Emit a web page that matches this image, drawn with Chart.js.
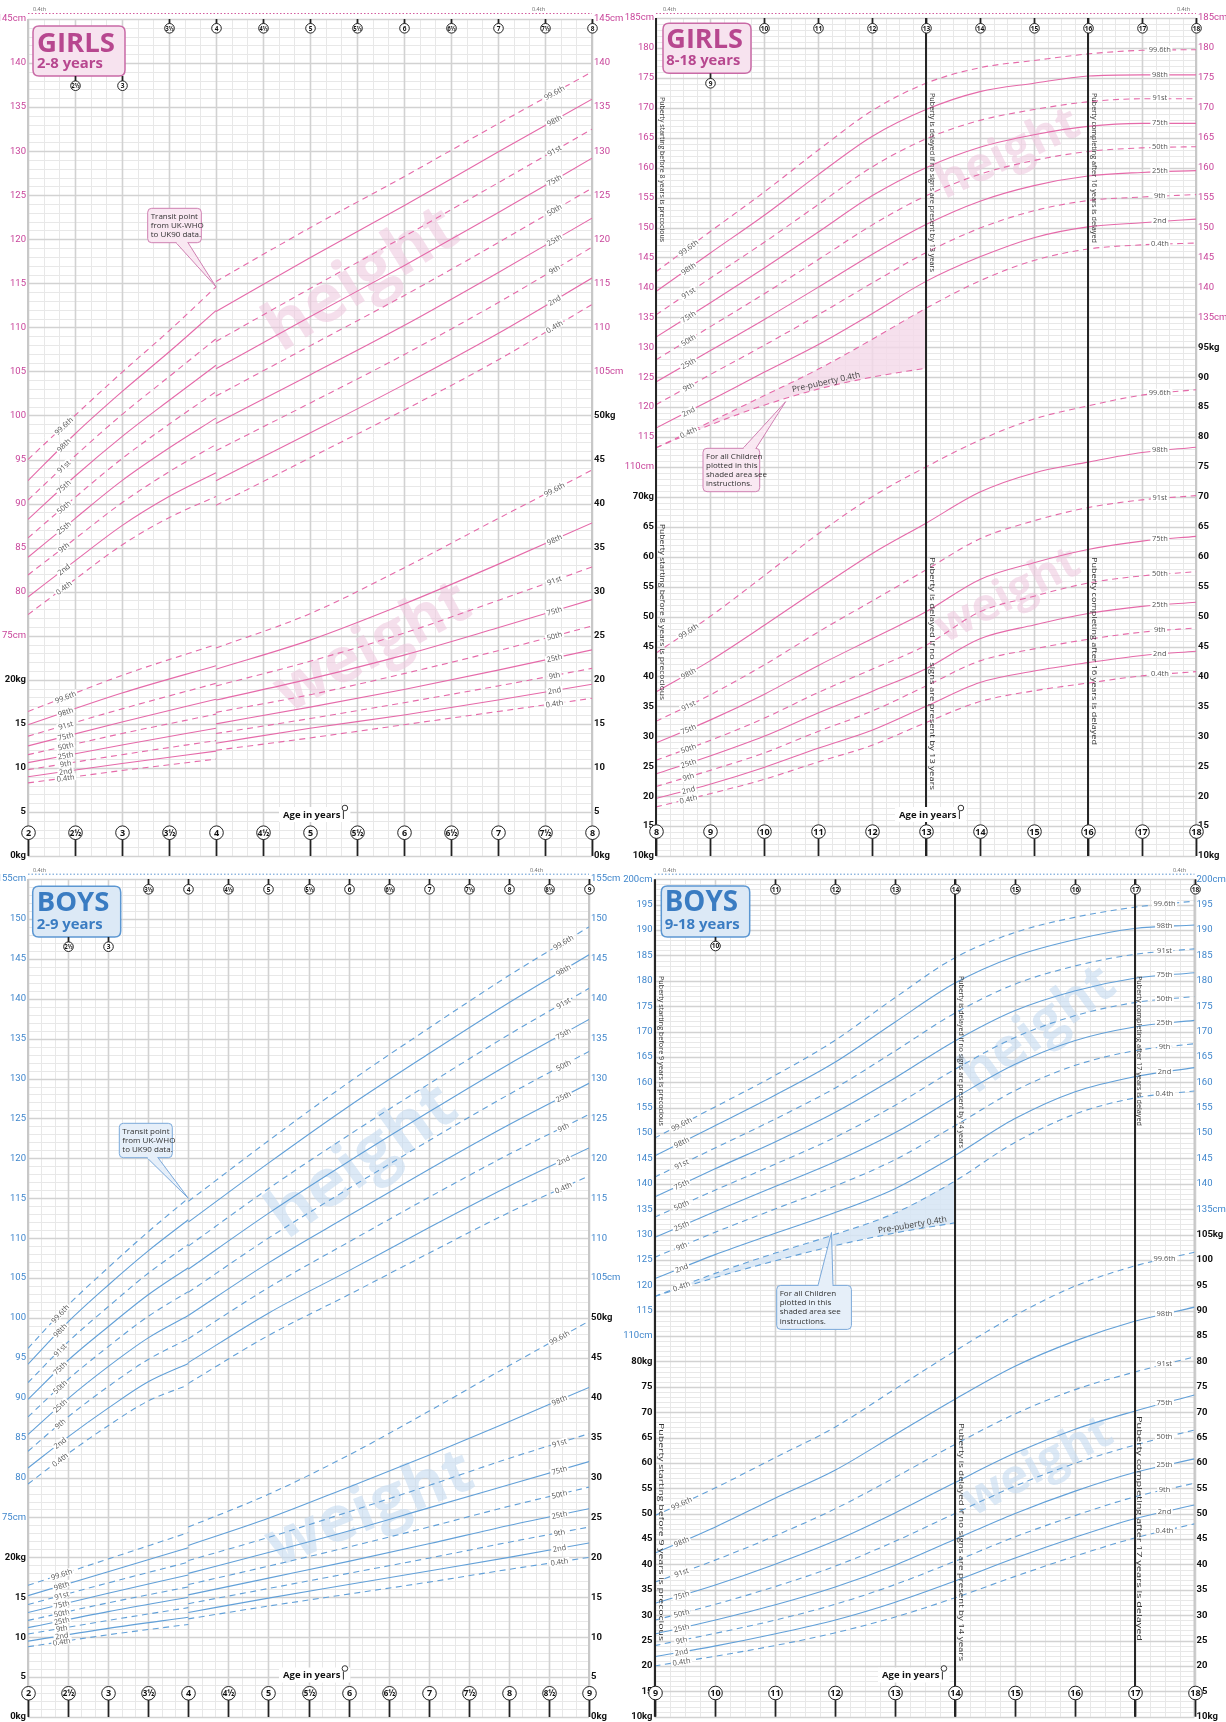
<!DOCTYPE html>
<html>
<head>
<meta charset="utf-8">
<title>Growth charts</title>
<script src="https://cdn.jsdelivr.net/npm/chart.js@4.4.1/dist/chart.umd.min.js"></script>
<style>
  html, body { margin: 0; padding: 0; background: #fff; }
  #page { position: relative; width: 1226px; height: 1722px; overflow: hidden; background: #fff; }
  #page canvas { position: absolute; }
</style>
</head>
<body>
<div id="page">
  <canvas id="girlsYoung" width="640" height="861" style="left:0;top:0"></canvas>
  <canvas id="girlsOld" width="613" height="861" style="left:613px;top:0"></canvas>
  <canvas id="boysYoung" width="640" height="861" style="left:0;top:861px"></canvas>
  <canvas id="boysOld" width="613" height="861" style="left:613px;top:861px"></canvas>
</div>
<script>
// Centile names, lowest to highest
const CENTILES = ['0.4th', '2nd', '9th', '25th', '50th', '75th', '91st', '98th', '99.6th'];

// ---------- Girls 2–8 years (UK-WHO to age 4, UK90 from age 4); one row per age ----------
const girlsWhoAges = [2, 2.5, 3, 3.5, 4];
const girlsWhoHeight = [
  [77.4, 79.4, 81.9, 83.9, 86.1, 88.2, 90.4, 92.6, 95.0],
  [81.4, 83.5, 86.0, 88.3, 90.7, 93.1, 95.4, 97.9, 100.0],
  [85.3, 87.5, 90.1, 92.6, 95.1, 97.6, 100.1, 102.7, 104.9],
  [88.4, 90.8, 93.6, 96.3, 99.0, 101.7, 104.4, 107.2, 109.6],
  [90.8, 93.5, 96.7, 99.7, 102.7, 105.7, 108.7, 111.9, 114.6]
];
const girlsWhoWeightAges = [2, 3, 4];
const girlsWhoWeight = [
  [8.3, 9.0, 9.8, 10.6, 11.5, 12.5, 13.6, 14.9, 16.4],
  [9.7, 10.5, 11.5, 12.6, 13.9, 15.2, 16.7, 18.5, 20.5],
  [11.0, 11.9, 13.1, 14.5, 16.1, 17.8, 19.6, 21.6, 24.0]
];
const girlsUkAges = [4, 5, 6, 7, 8];
const girlsUkHeight = [
  [89.8, 92.6, 96.0, 99.1, 102.2, 105.3, 108.4, 111.8, 115.2],
  [95.2, 98.0, 101.4, 104.6, 107.9, 111.2, 114.4, 117.9, 121.3],
  [100.6, 103.5, 106.9, 110.2, 113.6, 117.0, 120.3, 123.8, 127.1],
  [106.3, 109.3, 112.8, 116.2, 119.6, 123.0, 126.4, 129.9, 133.1],
  [112.6, 115.6, 119.1, 122.4, 125.8, 129.2, 132.5, 135.9, 139.0]
];
const girlsUkWeight = [
  [12.0, 12.8, 13.9, 15.0, 16.3, 17.7, 19.3, 21.2, 23.6],
  [13.4, 14.5, 15.6, 16.9, 18.3, 20.1, 22.1, 24.5, 27.5],
  [14.9, 16.0, 17.4, 18.9, 20.7, 22.8, 25.3, 28.6, 32.7],
  [16.4, 17.7, 19.3, 21.1, 23.3, 25.9, 29.0, 33.1, 38.3],
  [17.9, 19.5, 21.3, 23.4, 26.1, 29.1, 32.8, 37.8, 43.8]
];

// ---------- Girls 8–18 years (UK90) ----------
const girlsTeenAges = [8, 9, 10, 11, 12, 13, 14, 15, 16, 17, 18];
const girlsTeenHeight = [
  [113.2, 116.5, 120.4, 124.2, 127.9, 131.7, 135.4, 139.3, 142.6],
  [117.5, 121.1, 125.4, 129.4, 133.4, 137.4, 141.5, 145.7, 149.3],
  [121.9, 125.8, 130.3, 134.6, 138.9, 143.2, 147.5, 152.0, 155.9],
  [126.3, 130.4, 135.4, 140.0, 144.6, 149.2, 153.8, 158.8, 162.9],
  [131.3, 135.6, 140.7, 145.5, 150.4, 155.3, 160.1, 165.2, 169.5],
  [136.5, 141.0, 145.8, 150.5, 155.3, 160.0, 164.8, 169.7, 174.1],
  [141.1, 145.1, 149.9, 154.4, 158.9, 163.4, 167.9, 172.7, 176.7],
  [144.5, 148.3, 152.8, 157.0, 161.2, 165.5, 169.7, 174.1, 177.9],
  [146.4, 150.1, 154.5, 158.6, 162.7, 166.9, 171.0, 175.3, 179.0],
  [147.1, 150.8, 155.1, 159.2, 163.3, 167.4, 171.5, 175.5, 179.6],
  [147.4, 151.4, 155.5, 159.5, 163.5, 167.4, 171.5, 175.5, 179.7]
];
const girlsTeenWeight = [
  [18.2, 19.6, 21.6, 23.7, 26.0, 28.9, 32.5, 37.4, 43.9],
  [20.4, 22.0, 24.3, 26.7, 29.3, 32.7, 36.9, 42.6, 50.0],
  [22.8, 24.8, 27.2, 30.0, 33.0, 37.0, 41.9, 48.5, 56.8],
  [25.7, 28.0, 30.8, 33.9, 37.3, 41.8, 47.4, 54.6, 63.8],
  [28.5, 31.0, 34.2, 37.5, 41.2, 46.3, 52.6, 60.5, 70.0],
  [32.3, 35.0, 38.4, 41.3, 45.2, 50.8, 57.8, 65.6, 75.0],
  [35.8, 39.0, 42.6, 46.3, 50.8, 56.2, 63.0, 70.8, 79.5],
  [37.6, 40.9, 44.6, 48.6, 53.4, 59.0, 66.0, 74.0, 83.0],
  [38.9, 42.3, 46.2, 50.5, 55.6, 61.2, 68.2, 75.8, 85.2],
  [40.1, 43.5, 47.4, 51.7, 56.8, 62.6, 69.5, 77.4, 87.0],
  [40.8, 44.2, 48.1, 52.4, 57.5, 63.4, 70.2, 78.3, 87.9]
];
const girlsPrePubertyAges = [8, 9, 10, 11, 12, 13];
const girlsPrePuberty04 = [113.2, 117.0, 120.3, 123.0, 125.0, 126.5];

// ---------- Boys 2–9 years (UK-WHO to age 4, UK90 from age 4) ----------
const boysWhoAges = [2, 2.5, 3, 3.5, 4];
const boysWhoHeight = [
  [79.2, 81.2, 83.3, 85.4, 87.6, 89.8, 91.9, 94.2, 96.2],
  [83.0, 85.1, 87.6, 89.9, 92.3, 94.7, 97.0, 99.5, 101.6],
  [86.5, 88.7, 91.4, 93.9, 96.4, 98.9, 101.4, 104.1, 106.3],
  [89.6, 92.0, 94.8, 97.5, 100.2, 102.9, 105.6, 108.4, 110.8],
  [91.6, 94.3, 97.4, 100.3, 103.3, 106.3, 109.2, 112.3, 115.0]
];
const boysWhoWeightAges = [2, 3, 4];
const boysWhoWeight = [
  [8.8, 9.5, 10.4, 11.2, 12.1, 13.1, 14.1, 15.2, 16.5],
  [10.3, 11.1, 12.1, 13.2, 14.3, 15.5, 16.8, 18.2, 19.8],
  [11.6, 12.5, 13.7, 15.0, 16.3, 17.8, 19.4, 21.2, 23.1]
];
const boysUkAges = [4, 5, 6, 7, 8, 9];
const boysUkHeight = [
  [91.8, 94.4, 97.4, 100.3, 103.2, 106.1, 109.0, 112.0, 114.6],
  [97.8, 100.6, 103.8, 106.9, 110.0, 113.1, 116.2, 119.4, 122.2],
  [102.9, 105.9, 109.5, 112.8, 116.2, 119.6, 122.9, 126.5, 129.5],
  [108.1, 111.3, 115.1, 118.6, 122.2, 125.8, 129.3, 133.1, 136.3],
  [113.2, 116.5, 120.5, 124.2, 128.0, 131.8, 135.5, 139.5, 142.9],
  [117.8, 121.3, 125.5, 129.4, 133.4, 137.4, 141.3, 145.5, 149.0]
];
const boysUkWeight = [
  [12.3, 13.1, 14.2, 15.3, 16.6, 18.0, 19.6, 21.5, 23.8],
  [13.9, 14.9, 16.1, 17.4, 18.9, 20.6, 22.5, 24.9, 27.9],
  [15.4, 16.6, 18.0, 19.5, 21.3, 23.3, 25.7, 28.8, 32.8],
  [16.9, 18.3, 19.9, 21.7, 23.8, 26.2, 29.0, 32.8, 38.3],
  [18.5, 20.0, 21.9, 24.0, 26.4, 29.1, 32.4, 37.0, 44.0],
  [20.0, 21.8, 23.8, 26.1, 28.8, 32.0, 35.5, 41.3, 49.6]
];

// ---------- Boys 9–18 years (UK90) ----------
const boysTeenAges = [9, 10, 11, 12, 13, 14, 15, 16, 17, 18];
const boysTeenHeight = [
  [117.8, 121.3, 125.5, 129.4, 133.4, 137.4, 141.3, 145.5, 149.0],
  [122.3, 126.0, 130.4, 134.5, 138.7, 142.9, 147.0, 151.4, 155.1],
  [126.3, 130.2, 135.0, 139.4, 143.8, 148.2, 152.7, 157.4, 161.3],
  [130.0, 134.3, 139.5, 144.3, 149.1, 154.0, 158.8, 163.9, 168.2],
  [134.2, 139.0, 144.7, 150.0, 155.4, 160.8, 166.1, 171.8, 176.6],
  [140.5, 145.5, 151.4, 156.9, 162.5, 168.1, 173.6, 179.5, 184.5],
  [148.1, 152.8, 158.3, 163.5, 168.8, 174.1, 179.3, 184.8, 189.5],
  [153.7, 158.1, 163.3, 168.2, 173.1, 178.0, 182.9, 188.1, 192.5],
  [156.9, 161.1, 166.2, 170.9, 175.7, 180.5, 185.2, 190.3, 194.5],
  [158.3, 162.9, 167.6, 172.2, 176.9, 181.6, 186.3, 191.0, 195.7]
];
const boysTeenWeight = [
  [20.0, 21.8, 24.0, 26.3, 29.0, 32.3, 36.5, 42.2, 49.6],
  [21.9, 23.9, 26.4, 29.0, 32.1, 35.9, 40.8, 47.3, 55.0],
  [24.0, 26.3, 29.0, 32.0, 35.6, 40.0, 45.6, 53.0, 61.0],
  [26.5, 29.0, 32.1, 35.5, 39.6, 44.6, 50.9, 58.5, 67.0],
  [29.6, 32.5, 36.0, 39.8, 44.5, 50.1, 57.1, 65.5, 74.5],
  [33.4, 36.7, 40.6, 44.9, 50.0, 56.1, 63.6, 72.5, 82.0],
  [37.6, 41.2, 45.4, 50.0, 55.4, 61.9, 69.6, 79.0, 89.0],
  [41.6, 45.3, 49.6, 54.4, 59.9, 66.6, 74.4, 84.0, 94.8],
  [45.2, 49.0, 53.3, 58.1, 63.5, 70.2, 77.9, 87.9, 98.8],
  [48.0, 51.7, 56.0, 60.8, 66.5, 73.4, 80.9, 90.7, 101.5]
];
const boysPrePubertyAges = [9, 10, 11, 12, 13, 14];
const boysPrePuberty04 = [117.8, 121.5, 124.8, 127.8, 130.3, 132.3];

// ---------- shared styling ----------
const SANS = "'Open Sans', 'Noto Sans', 'DejaVu Sans', sans-serif";
const TICKFONT = "Roboto, 'Liberation Sans', sans-serif";

const PINK = {
  line: '#e56aa9', tick: '#c8449a', title: '#b7478f', boxFill: '#f7e3ef', boxStroke: '#c96aa6',
  mark: 'rgba(236, 196, 220, 0.55)', shade: 'rgba(244, 216, 233, 0.8)', dots: '#d35d9f', callFill: '#f9e8f2', callStroke: '#cf80b2'
};
const BLUE = {
  line: '#62a0d8', tick: '#3f86cc', title: '#3a7cc2', boxFill: '#dce9f6', boxStroke: '#5c97d2',
  mark: 'rgba(196, 218, 240, 0.6)', shade: 'rgba(214, 229, 245, 0.85)', dots: '#5d96d1', callFill: '#e6eff9', callStroke: '#7ba9da'
};

function centileSets(ages, table, axis, color) {
  return CENTILES.map((name, c) => ({
    label: name,
    data: ages.map((a, r) => ({ x: a, y: table[r][c] })),
    yAxisID: axis,
    borderColor: color,
    borderWidth: 1.1,
    borderDash: c % 2 === 0 ? [6, 4.5] : [],
    pointRadius: 0,
    pointHitRadius: 0,
    fill: false,
    cubicInterpolationMode: 'monotone'
  }));
}

function ageText(a) {
  const whole = Math.floor(a);
  return a - whole > 0.25 ? whole + '½' : String(whole);
}

function fitFont(ctx, text, weight, family, targetW) {
  ctx.font = `${weight} 100px ${family}`;
  const w = ctx.measureText(text).width;
  return 100 * targetW / w;
}

function roundRect(ctx, x, y, w, h, r) {
  ctx.beginPath();
  ctx.moveTo(x + r, y);
  ctx.lineTo(x + w - r, y);
  ctx.quadraticCurveTo(x + w, y, x + w, y + r);
  ctx.lineTo(x + w, y + h - r);
  ctx.quadraticCurveTo(x + w, y + h, x + w - r, y + h);
  ctx.lineTo(x + r, y + h);
  ctx.quadraticCurveTo(x, y + h, x, y + h - r);
  ctx.lineTo(x, y + r);
  ctx.quadraticCurveTo(x, y, x + r, y);
  ctx.closePath();
}

// y pixel of a drawn dataset at a given x pixel, plus the local slope angle
function pointOnLine(pts, px) {
  let k = 0;
  while (k < pts.length - 2 && pts[k + 1].x < px) k++;
  const p0 = pts[k], p1 = pts[k + 1];
  const t = (px - p0.x) / (p1.x - p0.x);
  return { y: p0.y + t * (p1.y - p0.y), ang: Math.atan2(p1.y - p0.y, p1.x - p0.x) };
}

// ---------- decoration plugin: paper grid, watermarks, labels, markers ----------
function makePaper(cfg, groupStart, prepubIndex) {
  const th = cfg.theme;

  function drawGrid(chart) {
    const { ctx, chartArea: a, scales: { x, y } } = chart;
    ctx.save();
    const hLines = Math.round(y.max - y.min);
    const vCount = Math.round((x.max - x.min) / cfg.grid.xStep);
    for (const pass of [0, 1]) {
      for (let i = 0; i <= hLines; i++) {
        const v = y.min + i;
        const major = v % 5 === 0;
        if (major !== (pass === 1)) continue;
        const py = Math.round(y.getPixelForValue(v)) + 0.5;
        ctx.strokeStyle = major ? '#d2d2d2' : '#e8e8e8';
        ctx.lineWidth = major ? 1.6 : 1;
        ctx.beginPath(); ctx.moveTo(a.left, py); ctx.lineTo(a.right, py); ctx.stroke();
      }
      for (let i = 0; i <= vCount; i++) {
        const major = i % cfg.grid.xMajorEvery === 0;
        if (major !== (pass === 1)) continue;
        const px = Math.round(x.getPixelForValue(x.min + i * cfg.grid.xStep)) + 0.5;
        ctx.strokeStyle = major ? '#d2d2d2' : '#e8e8e8';
        ctx.lineWidth = major ? 1.6 : 1;
        ctx.beginPath(); ctx.moveTo(px, a.top); ctx.lineTo(px, a.bottom); ctx.stroke();
      }
    }
    ctx.strokeStyle = '#c8c8c8';
    ctx.lineWidth = 2;
    ctx.beginPath(); ctx.moveTo(a.left, a.top); ctx.lineTo(a.left, a.bottom); ctx.stroke();
    ctx.beginPath(); ctx.moveTo(a.right, a.top); ctx.lineTo(a.right, a.bottom); ctx.stroke();
    ctx.restore();
  }

  function drawWatermarks(chart) {
    const { ctx } = chart;
    ctx.save();
    cfg.watermarks.forEach(m => {
      const size = fitFont(ctx, m.text, 'bold', SANS, m.len);
      ctx.save();
      ctx.translate(m.cx, m.cy);
      ctx.rotate(-m.angle * Math.PI / 180);
      ctx.font = `bold ${size}px ${SANS}`;
      ctx.fillStyle = th.mark;
      ctx.textAlign = 'center';
      ctx.textBaseline = 'middle';
      ctx.fillText(m.text, 0, 0);
      ctx.restore();
    });
    ctx.restore();
  }

  function drawBoldLines(chart) {
    const { ctx, chartArea: a, scales: { x } } = chart;
    ctx.save();
    ctx.strokeStyle = '#262626';
    ctx.lineWidth = 2;
    (cfg.boldAges || []).forEach(age => {
      const px = Math.round(x.getPixelForValue(age));
      ctx.beginPath(); ctx.moveTo(px, a.top); ctx.lineTo(px, a.bottom); ctx.stroke();
    });
    ctx.restore();
  }

  function tag(ctx, text, px, py, ang, size) {
    ctx.save();
    ctx.translate(px, py);
    ctx.rotate(ang);
    ctx.font = `${size}px ${SANS}`;
    const w = ctx.measureText(text).width;
    ctx.fillStyle = '#fff';
    ctx.fillRect(-w / 2 - 1.5, -3.5, w + 3, 7);
    ctx.fillStyle = '#555';
    ctx.textAlign = 'center';
    ctx.textBaseline = 'middle';
    ctx.fillText(text, 0, 0.5);
    ctx.restore();
  }

  function drawCentileLabels(chart) {
    const { ctx, scales: { x } } = chart;
    cfg.labels.forEach(L => {
      for (let c = 0; c < CENTILES.length; c++) {
        const pts = chart.getDatasetMeta(groupStart[L.group] + c).data;
        const px = x.getPixelForValue(L.x);
        const p = pointOnLine(pts, px);
        tag(ctx, CENTILES[c], px, p.y + (L.dy || 0), L.rotate ? p.ang : 0, L.size || 7.5);
      }
    });
    if (cfg.prepub && prepubIndex >= 0) {
      const pts = chart.getDatasetMeta(prepubIndex).data;
      const px = x.getPixelForValue(cfg.prepub.labelAge);
      const p = pointOnLine(pts, px);
      ctx.save();
      ctx.translate(px, p.y - 5);
      ctx.rotate(p.ang);
      ctx.font = `8.5px ${SANS}`;
      ctx.fillStyle = '#444';
      ctx.textAlign = 'center';
      ctx.textBaseline = 'middle';
      ctx.fillText('Pre-puberty 0.4th', 0, 0);
      ctx.restore();
    }
  }

  function drawTopDots(chart) {
    const { ctx, chartArea: a } = chart;
    const d = cfg.topDots;
    ctx.save();
    ctx.strokeStyle = th.dots;
    ctx.lineWidth = 1;
    ctx.setLineDash([1.5, 2]);
    ctx.beginPath(); ctx.moveTo(a.left, d.y + 0.5); ctx.lineTo(a.right, d.y + 0.5); ctx.stroke();
    ctx.setLineDash([]);
    ctx.fillStyle = '#666';
    ctx.font = `5.5px ${SANS}`;
    ctx.textBaseline = 'bottom';
    d.labels.forEach(lx => ctx.fillText('0.4th', lx, d.y - 1));
    ctx.restore();
  }

  function drawTitle(chart) {
    const { ctx } = chart;
    const t = cfg.title;
    ctx.save();
    roundRect(ctx, t.x, t.y, t.w, t.h, 6);
    ctx.fillStyle = th.boxFill; ctx.fill();
    ctx.strokeStyle = th.boxStroke; ctx.lineWidth = 1.5; ctx.stroke();
    ctx.fillStyle = th.title;
    ctx.textBaseline = 'alphabetic';
    ctx.textAlign = 'left';
    let s = fitFont(ctx, t.big, 'bold', SANS, t.bigW);
    ctx.font = `bold ${s}px ${SANS}`;
    ctx.fillText(t.big, t.tx, t.bigY);
    s = fitFont(ctx, t.small, 'bold', SANS, t.smallW);
    ctx.font = `bold ${s}px ${SANS}`;
    ctx.fillText(t.small, t.tx, t.smallY);
    ctx.restore();
  }

  function mark(ctx, px, py, r, label, fs, stemA, stemB) {
    ctx.strokeStyle = '#222';
    ctx.lineWidth = 1.7;
    ctx.beginPath(); ctx.moveTo(px, stemA); ctx.lineTo(px, stemB); ctx.stroke();
    ctx.beginPath(); ctx.arc(px, py, r, 0, Math.PI * 2);
    ctx.fillStyle = '#fff'; ctx.fill();
    ctx.lineWidth = 1; ctx.stroke();
    ctx.fillStyle = '#111';
    ctx.font = `bold ${fs}px ${SANS}`;
    ctx.textAlign = 'center';
    ctx.textBaseline = 'middle';
    const w = ctx.measureText(label).width;
    const maxW = r * 1.7;
    if (w > maxW) {
      ctx.save(); ctx.translate(px, py + 0.5); ctx.scale(maxW / w, 1); ctx.fillText(label, 0, 0); ctx.restore();
    } else {
      ctx.fillText(label, px, py + 0.5);
    }
  }

  function drawAgeMarks(chart) {
    const { ctx, chartArea: a, scales: { x } } = chart;
    const m = cfg.marks;
    ctx.save();
    m.top.forEach(age => {
      const px = Math.round(x.getPixelForValue(age)) + 0.5;
      mark(ctx, px, m.topY, 4.8, ageText(age), 6.5, a.top, m.topY);
    });
    m.under.forEach(age => {
      const px = Math.round(x.getPixelForValue(age)) + 0.5;
      mark(ctx, px, m.underY, 4.8, ageText(age), 6.5, m.underFrom, m.underY);
    });
    m.bottom.forEach(age => {
      const px = Math.round(x.getPixelForValue(age)) + 0.5;
      mark(ctx, px, m.bottomY, 6.8, ageText(age), 9, m.bottomY, a.bottom);
    });
    ctx.restore();
  }

  function drawCallouts(chart) {
    const { ctx, scales: { x, y } } = chart;
    ctx.save();
    cfg.callouts.forEach(c => {
      const tx = x.getPixelForValue(c.tip.x), ty = y.getPixelForValue(c.tip.y);
      const by = c.side === 'bottom' ? c.y + c.h : c.y;
      ctx.fillStyle = th.callFill;
      ctx.strokeStyle = th.callStroke;
      ctx.lineWidth = 1;
      roundRect(ctx, c.x, c.y, c.w, c.h, 4);
      ctx.fill(); ctx.stroke();
      ctx.beginPath();
      ctx.moveTo(c.base[0], by); ctx.lineTo(tx, ty); ctx.lineTo(c.base[1], by);
      ctx.fill(); ctx.stroke();
      ctx.fillRect(c.base[0] + 0.8, by - 1.2, c.base[1] - c.base[0] - 1.6, 2.4);
      ctx.fillStyle = '#333';
      ctx.font = `8px ${SANS}`;
      ctx.textAlign = 'left';
      ctx.textBaseline = 'alphabetic';
      c.lines.forEach((ln, i) => ctx.fillText(ln, c.x + 3, c.y + 10.5 + i * 9.2));
    });
    ctx.restore();
  }

  function drawNotes(chart) {
    const { ctx, scales: { x } } = chart;
    ctx.save();
    (cfg.notes || []).forEach(n => {
      const px = x.getPixelForValue(n.age) + n.dx;
      ctx.save();
      ctx.translate(px, n.y0);
      ctx.rotate(Math.PI / 2);
      ctx.font = `8px ${SANS}`;
      const w = ctx.measureText(n.text).width;
      ctx.scale((n.y1 - n.y0) / w, 1);
      ctx.fillStyle = '#333';
      ctx.textAlign = 'left';
      ctx.textBaseline = 'middle';
      ctx.fillText(n.text, 0, 0);
      ctx.restore();
    });
    ctx.restore();
  }

  function drawAgeLabel(chart) {
    const { ctx } = chart;
    const g = cfg.ageLabel;
    ctx.save();
    ctx.font = `bold 9.5px ${SANS}`;
    const w = ctx.measureText('Age in years').width;
    ctx.fillStyle = '#fff';
    ctx.fillRect(g.x - 4, g.y - 8, w + 14, 15);
    ctx.fillStyle = '#111';
    ctx.textBaseline = 'middle';
    ctx.fillText('Age in years', g.x, g.y);
    ctx.strokeStyle = '#333';
    ctx.lineWidth = 1;
    ctx.beginPath(); ctx.moveTo(g.x + w + 3, g.y - 4); ctx.lineTo(g.x + w + 3, g.y + 4); ctx.stroke();
    ctx.beginPath(); ctx.arc(g.x + w + 4.5, g.y - 7, 2.8, 0, Math.PI * 2);
    ctx.fillStyle = '#fff'; ctx.fill(); ctx.stroke();
    ctx.restore();
  }

  return {
    id: 'paper',
    beforeDatasetsDraw(chart) { drawGrid(chart); drawWatermarks(chart); },
    afterDatasetsDraw(chart) {
      drawBoldLines(chart);
      drawCentileLabels(chart);
      drawTopDots(chart);
      drawTitle(chart);
      drawAgeMarks(chart);
      drawCallouts(chart);
      drawNotes(chart);
      drawAgeLabel(chart);
    }
  };
}

function tickText(v, side, cfg) {
  const s = cfg.axisText[side];
  if (v >= s.hFrom) return (v === cfg.hMax || v === s.hFrom) ? v + 'cm' : String(v);
  if (v <= s.wTo) {
    const w = v - cfg.off;
    return (v === s.wTo || v === cfg.hMin) ? w + 'kg' : String(w);
  }
  return '';
}

function makeChart(id, cfg) {
  const canvas = document.getElementById(id);
  const W = canvas.width, H = canvas.height;
  const rightAxisW = W - cfg.area.right;
  const datasets = [];
  const groupStart = [];
  let prepubIndex = -1;
  cfg.groups.forEach(g => {
    groupStart.push(datasets.length);
    datasets.push(...centileSets(g.ages, g.table, g.axis, cfg.theme.line));
  });
  if (cfg.prepub) {
    const base = datasets.length;
    const p = cfg.prepub;
    datasets.push({
      label: 'boundary', data: p.ages.map((a, r) => ({ x: a, y: p.boundary[r][0] })),
      yAxisID: 'y', borderWidth: 0, borderColor: 'rgba(0,0,0,0)', pointRadius: 0, fill: false,
      cubicInterpolationMode: 'monotone'
    });
    prepubIndex = datasets.length;
    datasets.push({
      label: 'Pre-puberty 0.4th', data: p.ages.map((a, r) => ({ x: a, y: p.values[r] })),
      yAxisID: 'y', borderColor: cfg.theme.line, borderWidth: 1.1, borderDash: [6, 4.5], pointRadius: 0,
      backgroundColor: cfg.theme.shade, fill: { target: base }, cubicInterpolationMode: 'monotone'
    });
  }
  const isH = (c, side) => c.tick && c.tick.value >= cfg.axisText[side].hFrom;
  const tickOpts = side => ({
    stepSize: 5,
    autoSkip: false,
    padding: 2,
    callback: v => tickText(v, side, cfg),
    color: c => isH(c, side) ? cfg.theme.tick : '#111',
    font: c => ({ family: TICKFONT, size: 9.5, weight: isH(c, side) ? 'normal' : 'bold' })
  });
  const fixWidth = w => s => { s.width = w; s.paddingTop = 0; s.paddingBottom = 0; };
  return new Chart(canvas, {
    type: 'line',
    data: { datasets },
    options: {
      responsive: false,
      animation: false,
      devicePixelRatio: 1,
      events: [],
      layout: { padding: { left: 0, right: 0, top: cfg.area.top, bottom: H - cfg.area.bottom } },
      plugins: { legend: { display: false }, tooltip: { enabled: false } },
      scales: {
        x: { type: 'linear', min: cfg.xMin, max: cfg.xMax, display: false },
        y: {
          type: 'linear', position: 'left', min: cfg.hMin, max: cfg.hMax,
          grid: { display: false, drawTicks: false }, border: { display: false },
          ticks: tickOpts('left'), afterFit: fixWidth(cfg.area.left)
        },
        y2: {
          type: 'linear', position: 'right', min: cfg.hMin, max: cfg.hMax,
          grid: { display: false, drawTicks: false }, border: { display: false },
          ticks: tickOpts('right'), afterFit: fixWidth(rightAxisW)
        },
        w: { type: 'linear', display: false, min: cfg.hMin - cfg.off, max: cfg.hMax - cfg.off }
      }
    },
    plugins: [makePaper(cfg, groupStart, prepubIndex)]
  });
}

// ---------- the four panels ----------
makeChart('girlsYoung', {
  theme: PINK, xMin: 2, xMax: 8, hMin: 50, hMax: 145, off: 50,
  area: { left: 28, right: 592, top: 19, bottom: 856 },
  axisText: { left: { hFrom: 75, wTo: 70 }, right: { hFrom: 105, wTo: 100 } },
  grid: { xStep: 1 / 6, xMajorEvery: 3 },
  groups: [
    { ages: girlsWhoAges, table: girlsWhoHeight, axis: 'y' },
    { ages: girlsUkAges, table: girlsUkHeight, axis: 'y' },
    { ages: girlsWhoWeightAges, table: girlsWhoWeight, axis: 'w' },
    { ages: girlsUkAges, table: girlsUkWeight, axis: 'w' }
  ],
  labels: [
    { group: 0, x: 2.38, rotate: true }, { group: 2, x: 2.4, rotate: true },
    { group: 1, x: 7.6, rotate: true }, { group: 3, x: 7.6, rotate: true }
  ],
  watermarks: [
    { text: 'height', cx: 362, cy: 280, angle: 32, len: 214 },
    { text: 'weight', cx: 373, cy: 648, angle: 28, len: 212 }
  ],
  topDots: { y: 13, labels: [33, 532] },
  title: { x: 33, y: 26, w: 92, h: 50, tx: 37, big: 'GIRLS', bigW: 78, bigY: 51.5, small: '2-8 years', smallW: 66, smallY: 68 },
  marks: { top: [3.5, 4, 4.5, 5, 5.5, 6, 6.5, 7, 7.5, 8], topY: 28.3, under: [2.5, 3], underY: 85.7, underFrom: 76,
           bottom: [2, 2.5, 3, 3.5, 4, 4.5, 5, 5.5, 6, 6.5, 7, 7.5, 8], bottomY: 832.7 },
  callouts: [
    { x: 147.7, y: 208.3, w: 53.6, h: 34.4, side: 'bottom', base: [176, 188], tip: { x: 4, y: girlsWhoHeight[4][8] },
      lines: ['Transit point', 'from UK-WHO', 'to UK90 data.'] }
  ],
  ageLabel: { x: 283, y: 815 }
});

makeChart('girlsOld', {
  theme: PINK, xMin: 8, xMax: 18, hMin: 45, hMax: 185, off: 35,
  area: { left: 43, right: 583, top: 18, bottom: 856 },
  axisText: { left: { hFrom: 110, wTo: 105 }, right: { hFrom: 135, wTo: 130 } },
  grid: { xStep: 0.25, xMajorEvery: 4 },
  groups: [
    { ages: girlsTeenAges, table: girlsTeenHeight, axis: 'y' },
    { ages: girlsTeenAges, table: girlsTeenWeight, axis: 'w' }
  ],
  prepub: { ages: girlsPrePubertyAges, values: girlsPrePuberty04, boundary: girlsTeenHeight, labelAge: 11.15 },
  labels: [
    { group: 0, x: 8.6, rotate: true }, { group: 1, x: 8.6, rotate: true },
    { group: 0, x: 17.33, rotate: false, dy: -1 }, { group: 1, x: 17.33, rotate: false, dy: -1 }
  ],
  boldAges: [8, 13, 16],
  watermarks: [
    { text: 'height', cx: 395, cy: 154, angle: 25.5, len: 153 },
    { text: 'weight', cx: 395, cy: 596, angle: 27.5, len: 156 }
  ],
  topDots: { y: 13, labels: [50, 564] },
  title: { x: 50, y: 23.3, w: 88, h: 50, tx: 53.3, big: 'GIRLS', bigW: 76.7, bigY: 48.3, small: '8-18 years', smallW: 74, smallY: 65 },
  marks: { top: [10, 11, 12, 13, 14, 15, 16, 17, 18], topY: 28.3, under: [9], underY: 83.3, underFrom: 73.3,
           bottom: [8, 9, 10, 11, 12, 13, 14, 15, 16, 17, 18], bottomY: 831.6 },
  callouts: [
    { x: 90, y: 448.3, w: 56.7, h: 43.4, side: 'top', base: [130, 143], tip: { x: 10.4, y: 120.9 },
      lines: ['For all Children', 'plotted in this', 'shaded area see', 'instructions.'] }
  ],
  notes: [
    { age: 8, dx: 6, y0: 97, y1: 242, text: 'Puberty starting before 8 years is precocious' },
    { age: 13, dx: 6, y0: 93, y1: 272, text: 'Puberty is delayed if no signs are present by 13 years' },
    { age: 16, dx: 6, y0: 93, y1: 243, text: 'Puberty completing after 16 years is delayed' },
    { age: 8, dx: 6, y0: 524, y1: 700, text: 'Puberty starting before 8 years is precocious' },
    { age: 13, dx: 6, y0: 557, y1: 790, text: 'Puberty is delayed if no signs are present by 13 years' },
    { age: 16, dx: 6, y0: 557, y1: 745, text: 'Puberty completing after 16 years is delayed' }
  ],
  ageLabel: { x: 286, y: 815 }
});

makeChart('boysYoung', {
  theme: BLUE, xMin: 2, xMax: 9, hMin: 50, hMax: 155, off: 50,
  area: { left: 28, right: 589, top: 18, bottom: 856 },
  axisText: { left: { hFrom: 75, wTo: 70 }, right: { hFrom: 105, wTo: 100 } },
  grid: { xStep: 1 / 6, xMajorEvery: 3 },
  groups: [
    { ages: boysWhoAges, table: boysWhoHeight, axis: 'y' },
    { ages: boysUkAges, table: boysUkHeight, axis: 'y' },
    { ages: boysWhoWeightAges, table: boysWhoWeight, axis: 'w' },
    { ages: boysUkAges, table: boysUkWeight, axis: 'w' }
  ],
  labels: [
    { group: 0, x: 2.4, rotate: true }, { group: 2, x: 2.42, rotate: true },
    { group: 1, x: 8.68, rotate: true }, { group: 3, x: 8.63, rotate: true }
  ],
  watermarks: [
    { text: 'height', cx: 363, cy: 301, angle: 35.8, len: 215 },
    { text: 'weight', cx: 370, cy: 649, angle: 22, len: 217 }
  ],
  topDots: { y: 12.7, labels: [33, 530] },
  title: { x: 32.7, y: 25.3, w: 88, h: 50.7, tx: 36.7, big: 'BOYS', bigW: 72.6, bigY: 50, small: '2-9 years', smallW: 66, smallY: 68.3 },
  marks: { top: [3.5, 4, 4.5, 5, 5.5, 6, 6.5, 7, 7.5, 8, 8.5, 9], topY: 28.3, under: [2.5, 3], underY: 85.7, underFrom: 76,
           bottom: [2, 2.5, 3, 3.5, 4, 4.5, 5, 5.5, 6, 6.5, 7, 7.5, 8, 8.5, 9], bottomY: 832.3 },
  callouts: [
    { x: 119.3, y: 262.3, w: 53, h: 34.4, side: 'bottom', base: [147, 158], tip: { x: 4, y: boysWhoHeight[4][8] },
      lines: ['Transit point', 'from UK-WHO', 'to UK90 data.'] }
  ],
  ageLabel: { x: 283, y: 814.5 }
});

makeChart('boysOld', {
  theme: BLUE, xMin: 9, xMax: 18, hMin: 35, hMax: 200, off: 25,
  area: { left: 41.5, right: 581.5, top: 18.3, bottom: 855.7 },
  axisText: { left: { hFrom: 110, wTo: 105 }, right: { hFrom: 135, wTo: 130 } },
  grid: { xStep: 0.25, xMajorEvery: 4 },
  groups: [
    { ages: boysTeenAges, table: boysTeenHeight, axis: 'y' },
    { ages: boysTeenAges, table: boysTeenWeight, axis: 'w' }
  ],
  prepub: { ages: boysPrePubertyAges, values: boysPrePuberty04, boundary: boysTeenHeight, labelAge: 13.3 },
  labels: [
    { group: 0, x: 9.45, rotate: true }, { group: 1, x: 9.45, rotate: true },
    { group: 0, x: 17.5, rotate: false, dy: -1 }, { group: 1, x: 17.5, rotate: false, dy: -1 }
  ],
  boldAges: [9, 14, 17],
  watermarks: [
    { text: 'height', cx: 425, cy: 169, angle: 36, len: 177 },
    { text: 'weight', cx: 425, cy: 606, angle: 28, len: 162 }
  ],
  topDots: { y: 12.7, labels: [50, 560] },
  title: { x: 48.3, y: 25, w: 88.4, h: 51, tx: 51.7, big: 'BOYS', bigW: 73.3, bigY: 50, small: '9-18 years', smallW: 75, smallY: 68 },
  marks: { top: [11, 12, 13, 14, 15, 16, 17, 18], topY: 28.3, under: [10], underY: 85, underFrom: 76,
           bottom: [9, 10, 11, 12, 13, 14, 15, 16, 17, 18], bottomY: 832 },
  callouts: [
    { x: 163.7, y: 424.4, w: 74.7, h: 44, side: 'top', base: [205, 220], tip: { x: 11.95, y: 130.4 },
      lines: ['For all Children', 'plotted in this', 'shaded area see', 'instructions.'] }
  ],
  notes: [
    { age: 9, dx: 6.5, y0: 115, y1: 265, text: 'Puberty starting before 9 years is precocious' },
    { age: 14, dx: 6.5, y0: 115, y1: 287, text: 'Puberty is delayed if no signs are present by 14 years' },
    { age: 17, dx: 5, y0: 115, y1: 265, text: 'Puberty completing after 17 years is delayed' },
    { age: 9, dx: 6.5, y0: 562, y1: 780, text: 'Puberty starting before 9 years is precocious' },
    { age: 14, dx: 6.5, y0: 562, y1: 800, text: 'Puberty is delayed if no signs are present by 14 years' },
    { age: 17, dx: 5, y0: 555, y1: 780, text: 'Puberty completing after 17 years is delayed' }
  ],
  ageLabel: { x: 269, y: 814.5 }
});
</script>
</body>
</html>
